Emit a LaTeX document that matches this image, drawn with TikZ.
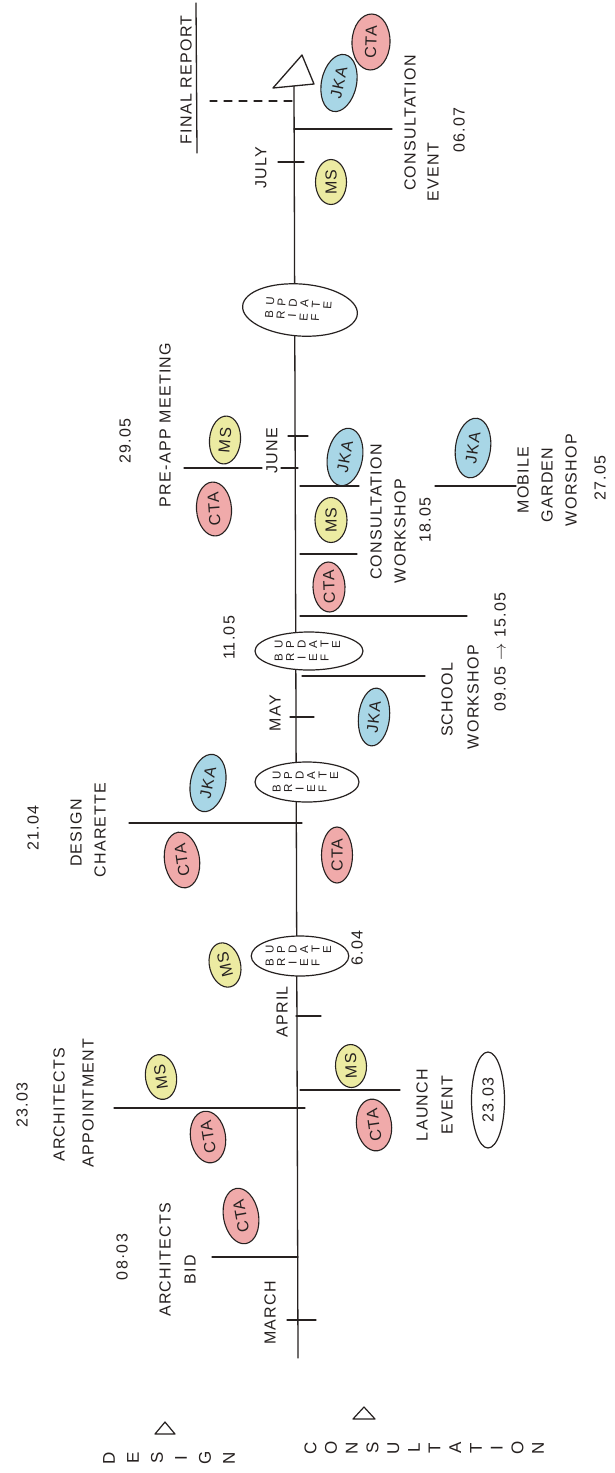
\documentclass[tikz,border=0pt]{standalone}
\usepackage{fontspec}
\setmainfont{Liberation Sans}[LetterSpace=8]
\usetikzlibrary{shapes.geometric}

\definecolor{ink}{HTML}{262120}
\definecolor{ctapink}{HTML}{F0AAAA}
\definecolor{msyellow}{HTML}{ECEBA2}
\definecolor{jkablue}{HTML}{A8D6E6}

% letters written one under another (turned with the node)
\newcommand\letterstack[1]{\begin{tabular}[t]{@{}c@{}}#1\end{tabular}}

\begin{document}
\begin{tikzpicture}[x=1pt, y=-1pt,
  pen/.style={draw=ink, line width=1.3pt, line cap=round},
  lbl/.style={rotate=90, text=ink, inner sep=0pt, font=\fontsize{16}{19}\selectfont},
  tag/.style={ellipse, rotate=90, draw=ink, line width=1.1pt, inner sep=0pt, text=ink,
              font=\fontsize{16}{18}\selectfont},
  cta/.style={tag, fill=ctapink, minimum width=56pt, minimum height=35pt},
  ms/.style={tag, fill=msyellow, minimum width=45pt, minimum height=31pt},
  jka/.style={tag, fill=jkablue, minimum width=58pt, minimum height=35pt},
  brief/.style={ellipse, rotate=90, draw=ink, line width=1.2pt, fill=white, inner sep=0pt,
                text=ink, font=\fontsize{11.5}{11.5}\selectfont},
  stack/.style={rotate=90, text=ink, inner sep=0pt},
]
\useasboundingbox (0,0) rectangle (615,1473);
\fill[white] (0,0) rectangle (615,1473);

% ---------- main time line ----------
\coordinate (tlbottom) at (298,1358);
\coordinate (tltop) at (294,86);
\draw[pen] (tlbottom) -- (tltop);
\coordinate (apex) at (302,55);
\coordinate (baseL) at (273,88);
\coordinate (baseR) at (314,84);
\draw[pen, line join=round] (apex) -- (baseL) -- (baseR) -- cycle;

% month ticks
\draw[pen] (287,1320) -- (316,1320);
\draw[pen] (296,1016) -- (321,1016);
\draw[pen] (290,717) -- (314,717);
\draw[pen] (288,436) -- (308,436);
\draw[pen] (278,162) -- (304,162);

\node[lbl] (march) at (270,1313) {MARCH};
\node[lbl] (april) at (282,1012) {APRIL};
\node[lbl] (may)   at (275,713)  {MAY};
\node[lbl] (june)  at (272,451)  {JUNE};
\node[lbl] (july)  at (261,168)  {JULY};

% ---------- design side (left) ----------
\coordinate (bidA) at (298,1257);  \coordinate (bidB) at (212,1257);
\draw[pen] (bidA) -- (bidB);
\node[lbl] (bidDate) at (122,1257) {08·03};
\node[lbl] (bidT1) at (165,1260) {ARCHITECTS};
\node[lbl] (bidT2) at (190,1270) {BID};
\node[cta, rotate=10] (ctaA) at (241,1216) {CTA};

\coordinate (appA) at (305,1108);  \coordinate (appB) at (114,1108);
\draw[pen] (appA) -- (appB);
\node[lbl] (appDate) at (22,1105) {23.03};
\node[lbl] (appT1) at (59,1105) {ARCHITECTS};
\node[lbl] (appT2) at (88,1103) {APPOINTMENT};
\node[ms, rotate=8] (msA) at (161,1077) {MS};
\node[cta, rotate=9, minimum width=52pt] (ctaB) at (208,1137) {CTA};

\node[ms, rotate=14] (msC) at (225,965) {MS};

\coordinate (chA) at (302,823);  \coordinate (chB) at (129,823);
\draw[pen] (chA) -- (chB);
\node[lbl] (chDate) at (33,828) {21.04};
\node[lbl] (chT1) at (76,833) {DESIGN};
\node[lbl] (chT2) at (100,830) {CHARETTE};
\node[cta, rotate=8] (ctaD) at (182,860) {CTA};
\node[jka, rotate=-11] (jkaA) at (208,783) {JKA};

\node[lbl] (briefDate) at (229,638) {11.05};

\coordinate (paA) at (298,468);  \coordinate (paJ1) at (281,468);
\coordinate (paJ2) at (262,468); \coordinate (paB) at (184,468);
\draw[pen] (paA) -- (paJ1);
\draw[pen] (paJ2) -- (paB);
\node[lbl] (paDate) at (125,441) {29.05};
\node[lbl] (paT) at (165,425) {PRE-APP MEETING};
\node[cta, rotate=4, minimum width=54pt] (ctaF) at (214,509) {CTA};
\node[ms, rotate=-5, minimum width=48pt] (msE) at (225,440) {MS};

% final report
\node[lbl] (frT) at (186,80) {FINAL REPORT};
\coordinate (frU1) at (196,3); \coordinate (frU2) at (197,153);
\draw[pen] (frU1) -- (frU2);
\coordinate (frA) at (292,101); \coordinate (frB) at (210,101);
\draw[pen, dash pattern=on 8pt off 7pt] (frA) -- (frB);

% ---------- consultation side (right) ----------
\coordinate (laA) at (300,1090);  \coordinate (laB) at (400,1090);
\draw[pen] (laA) -- (laB);
\node[ms, rotate=2, minimum width=43pt] (msB) at (351,1066) {MS};
\node[cta, rotate=8, minimum width=52pt] (ctaC) at (374,1125) {CTA};
\node[lbl] (laT1) at (422,1105) {LAUNCH};
\node[lbl] (laT2) at (447,1105) {EVENT};
\node[ellipse, rotate=90, draw=ink, line width=1.2pt, inner sep=0pt, text=ink,
      minimum width=96pt, minimum height=33pt, font=\fontsize{16}{19}\selectfont] (laDate) at (488,1100) {23.03};

\node[lbl] (aprDate) at (357,948) {6.04};
\node[cta, minimum height=31pt, minimum width=56pt] (ctaE) at (337,855) {CTA};
\node[jka, rotate=-6, minimum height=31pt] (jkaB) at (374,717) {JKA};

\coordinate (swA) at (302,676);  \coordinate (swB) at (425,676);
\draw[pen] (swA) -- (swB);
\coordinate (swC) at (300,616);  \coordinate (swD) at (467,616);
\draw[pen] (swC) -- (swD);
\node[lbl] (swT1) at (447,700) {SCHOOL};
\node[lbl] (swT2) at (473,697) {WORKSHOP};
\node[lbl] (swDate) at (500,652) {09.05 $\rightarrow$ 15.05};

\coordinate (cwA) at (300,554);  \coordinate (cwB) at (357,554);
\draw[pen] (cwA) -- (cwB);
\coordinate (cwC) at (300,486);  \coordinate (cwD) at (359,486);
\draw[pen] (cwC) -- (cwD);
\coordinate (mgA) at (435,486);  \coordinate (mgB) at (516,486);
\draw[pen] (mgA) -- (mgB);
\node[cta, rotate=2, minimum height=32pt, minimum width=50pt] (ctaG) at (329,587) {CTA};
\node[ms, minimum height=32pt] (msD) at (331,520) {MS};
\node[jka, rotate=-10] (jkaC) at (345,457) {JKA};
\node[lbl] (cwT1) at (376,512) {CONSULTATION};
\node[lbl] (cwT2) at (400,531) {WORKSHOP};
\node[lbl] (cwDate) at (425,520) {18.05};

\node[jka, rotate=-8, minimum width=60pt] (jkaD) at (473,448) {JKA};
\node[lbl] (mgT1) at (523,480) {MOBILE};
\node[lbl] (mgT2) at (547,485) {GARDEN};
\node[lbl] (mgT3) at (571,480) {WORSHOP};
\node[lbl] (mgDate) at (600,478) {27.05};

\node[ms] (msF) at (331,182) {MS};

\coordinate (ceA) at (294,129);  \coordinate (ceB) at (392,129);
\draw[pen] (ceA) -- (ceB);
\node[jka, rotate=-12] (jkaE) at (339,83) {JKA};
\node[cta, rotate=-2, minimum height=38pt] (ctaH) at (371,42) {CTA};
\node[lbl] (ceT1) at (410,123) {CONSULTATION};
\node[lbl] (ceT2) at (433,172) {EVENT};
\node[lbl] (ceDate) at (459,130) {06.07};

% ---------- update-brief ovals on the line ----------
\node[brief, minimum width=40pt, minimum height=95pt] (brief1) at (300,956)
  {\letterstack{B\\R\\I\\E\\F}\hspace{5pt}\letterstack{U\\P\\D\\A\\T\\E}};
\node[brief, minimum width=40pt, minimum height=104pt] (brief2) at (307,782)
  {\letterstack{B\\R\\I\\E\\F}\hspace{5pt}\letterstack{U\\P\\D\\A\\T\\E}};
\node[brief, minimum width=38pt, minimum height=108pt] (brief3) at (309,651)
  {\letterstack{B\\R\\I\\E\\F}\hspace{5pt}\letterstack{U\\P\\D\\A\\T\\E}};
\node[brief, rotate=-4, minimum width=52pt, minimum height=115pt] (brief4) at (300,310)
  {\letterstack{B\\R\\I\\E\\F}\hspace{5pt}\letterstack{U\\P\\D\\A\\T\\E}};

% ---------- legend at the foot ----------
\coordinate (dtri) at (165,1428);
\draw[draw=ink, line width=1.2pt, line join=round] (dtri) ++(-10,6) -- ++(20,0) -- ++(-10,-12) -- cycle;
\node[stack, font=\fontsize{17}{24}\selectfont] (designKey) at (170,1458)
  {\letterstack{D\\E\\S\\I\\G\\N}};
\coordinate (ctri) at (364,1413);
\draw[draw=ink, line width=1.2pt, line join=round] (ctri) ++(-11,6) -- ++(22,0) -- ++(-11,-12) -- cycle;
\node[stack, font=\fontsize{17}{20.7}\selectfont] (consultKey) at (426,1448)
  {\letterstack{C\\O\\N\\S\\U\\L\\T\\A\\T\\I\\O\\N}};
\end{tikzpicture}
\end{document}
